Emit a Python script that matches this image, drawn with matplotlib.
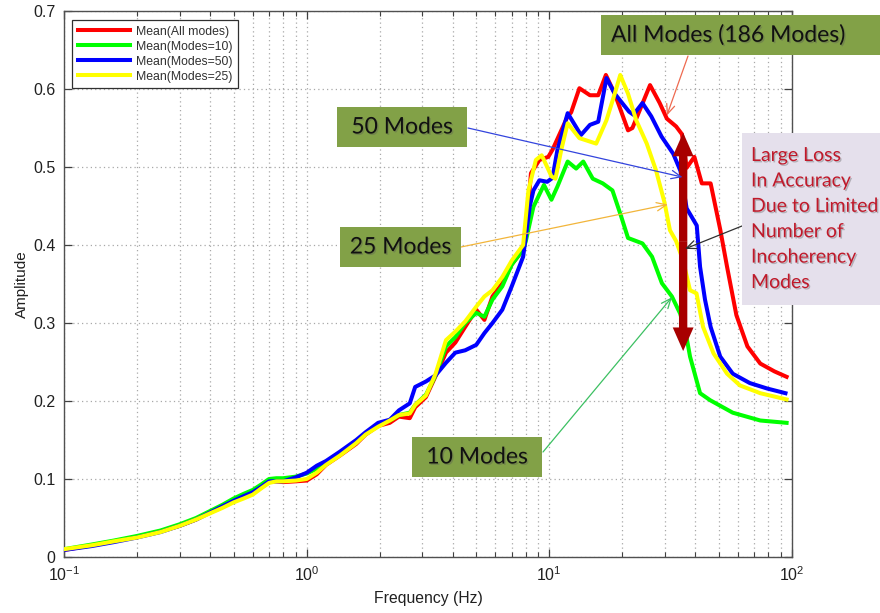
import matplotlib
matplotlib.use("Agg")
import matplotlib.pyplot as plt
import matplotlib.patheffects as pe
from matplotlib.patches import Rectangle, FancyArrowPatch
from matplotlib.ticker import FixedLocator, FuncFormatter, LogLocator, NullFormatter

# ---------------- data ----------------
freq_all = [0.1, 0.13, 0.16, 0.2, 0.25, 0.3, 0.35, 0.4, 0.45, 0.5, 0.55, 0.6, 0.65, 0.7,
            0.75, 0.8, 0.9, 1.0, 1.1, 1.2, 1.37, 1.6, 1.75, 1.97, 2.2, 2.4, 2.66, 2.8, 3.1,
            3.4, 3.75, 4.1, 4.5, 5.0, 5.4, 5.83, 6.4, 7.0, 7.8, 8.0, 8.4, 9.1, 9.9, 10.3,
            11.9, 12.3, 13.3, 14.7, 15.9, 17.1, 18.6, 21.1, 22.0, 26.0, 28.5, 30.5, 33.3,
            35.2, 36.8, 39.6, 42.5, 46.2, 50.6, 54.0, 59.0, 65.5, 74.0, 84.6, 95.0]
amp_all = [0.009, 0.015, 0.020, 0.026, 0.033, 0.040, 0.048, 0.057, 0.064, 0.071, 0.077,
           0.082, 0.089, 0.096, 0.097, 0.096, 0.097, 0.098, 0.106, 0.118, 0.130, 0.145,
           0.157, 0.168, 0.172, 0.180, 0.178, 0.192, 0.205, 0.232, 0.262, 0.275, 0.295,
           0.317, 0.304, 0.334, 0.351, 0.375, 0.394, 0.410, 0.492, 0.509, 0.513, 0.522,
           0.565, 0.570, 0.601, 0.592, 0.592, 0.618, 0.594, 0.547, 0.550, 0.605, 0.582,
           0.562, 0.552, 0.542, 0.499, 0.513, 0.479, 0.479, 0.420, 0.372, 0.310, 0.270,
           0.248, 0.238, 0.231]

freq_m10 = [0.1, 0.13, 0.16, 0.2, 0.25, 0.3, 0.35, 0.4, 0.45, 0.5, 0.55, 0.6, 0.65, 0.7,
            0.75, 0.8, 0.9, 1.0, 1.1, 1.2, 1.37, 1.6, 1.75, 1.97, 2.2, 2.4, 2.66, 2.8, 3.1,
            3.4, 3.75, 4.1, 4.5, 5.0, 5.4, 5.83, 6.4, 7.0, 7.8, 8.0, 8.6, 9.5, 10.2, 10.8,
            11.9, 12.9, 13.8, 15.1, 16.6, 18.2, 19.8, 21.1, 24.2, 26.5, 29.1, 32.0, 34.6,
            36.5, 38.0, 41.8, 46.0, 57.0, 74.0, 95.0]
amp_m10 = [0.010, 0.016, 0.021, 0.027, 0.034, 0.042, 0.050, 0.059, 0.067, 0.075, 0.081,
           0.086, 0.093, 0.100, 0.101, 0.101, 0.103, 0.107, 0.113, 0.120, 0.132, 0.147,
           0.158, 0.170, 0.175, 0.182, 0.185, 0.195, 0.208, 0.233, 0.270, 0.282, 0.300,
           0.313, 0.308, 0.330, 0.347, 0.375, 0.394, 0.405, 0.449, 0.477, 0.458, 0.475,
           0.507, 0.498, 0.507, 0.485, 0.479, 0.470, 0.436, 0.409, 0.402, 0.385, 0.351,
           0.334, 0.312, 0.287, 0.257, 0.210, 0.201, 0.185, 0.175, 0.172]

freq_m50 = [0.1, 0.13, 0.16, 0.2, 0.25, 0.3, 0.35, 0.4, 0.45, 0.5, 0.55, 0.6, 0.65, 0.7,
            0.75, 0.8, 0.9, 1.0, 1.1, 1.2, 1.37, 1.6, 1.75, 1.97, 2.2, 2.4, 2.66, 2.8, 3.1,
            3.4, 3.75, 4.1, 4.5, 5.0, 5.4, 5.83, 6.4, 7.0, 7.8, 8.3, 8.6, 9.1, 9.8, 10.3,
            10.8, 11.9, 13.5, 14.7, 15.9, 17.2, 18.6, 21.3, 22.2, 24.2, 26.3, 29.0, 32.4,
            34.7, 36.8, 40.5, 41.8, 43.8, 46.2, 50.6, 57.0, 67.0, 79.0, 94.0]
amp_m50 = [0.009, 0.014, 0.019, 0.025, 0.032, 0.040, 0.048, 0.057, 0.065, 0.072, 0.078,
           0.083, 0.090, 0.097, 0.097, 0.097, 0.102, 0.108, 0.117, 0.123, 0.135, 0.150,
           0.160, 0.172, 0.176, 0.188, 0.197, 0.218, 0.225, 0.233, 0.249, 0.262, 0.265,
           0.272, 0.287, 0.300, 0.317, 0.347, 0.385, 0.449, 0.470, 0.483, 0.481, 0.486,
           0.522, 0.569, 0.541, 0.554, 0.558, 0.614, 0.594, 0.571, 0.567, 0.582, 0.565,
           0.539, 0.517, 0.495, 0.447, 0.425, 0.372, 0.330, 0.295, 0.257, 0.235, 0.223,
           0.216, 0.210]

freq_m25 = [0.1, 0.13, 0.16, 0.2, 0.25, 0.3, 0.35, 0.4, 0.45, 0.5, 0.55, 0.6, 0.65, 0.7,
            0.75, 0.8, 0.9, 1.0, 1.1, 1.2, 1.37, 1.6, 1.75, 1.97, 2.2, 2.4, 2.66, 2.8, 3.1,
            3.4, 3.75, 4.1, 4.5, 5.0, 5.4, 5.83, 6.4, 7.0, 7.8, 8.2, 8.8, 9.3, 9.8, 10.2,
            10.6, 11.2, 11.9, 13.3, 15.6, 17.2, 18.6, 19.6, 21.1, 22.8, 25.2, 27.5, 29.8,
            31.4, 33.3, 35.5, 38.0, 40.4, 43.0, 47.5, 54.0, 61.0, 74.0, 95.0]
amp_m25 = [0.010, 0.015, 0.020, 0.025, 0.032, 0.040, 0.048, 0.056, 0.063, 0.070, 0.075,
           0.080, 0.088, 0.095, 0.097, 0.097, 0.098, 0.100, 0.108, 0.118, 0.130, 0.146,
           0.157, 0.167, 0.175, 0.182, 0.184, 0.195, 0.207, 0.235, 0.278, 0.289, 0.302,
           0.321, 0.334, 0.342, 0.359, 0.380, 0.400, 0.470, 0.509, 0.515, 0.500, 0.488,
           0.485, 0.522, 0.556, 0.537, 0.530, 0.560, 0.594, 0.618, 0.594, 0.560, 0.530,
           0.496, 0.455, 0.419, 0.405, 0.381, 0.342, 0.338, 0.295, 0.261, 0.235, 0.220,
           0.210, 0.202]

series_labels = ["Mean(All modes)", "Mean(Modes=10)", "Mean(Modes=50)", "Mean(Modes=25)"]
series_colors = ["#ff0000", "#00ff00", "#0000ff", "#ffff00"]

y_ticks = [0, 0.1, 0.2, 0.3, 0.4, 0.5, 0.6, 0.7]

# ---------------- figure ----------------
W, H = 880, 613
fig = plt.figure(figsize=(W / 100, H / 100), dpi=100)
fig.patch.set_facecolor("white")

ax_l, ax_t, ax_r, ax_b = 64, 11, 792, 557
ax = fig.add_axes([ax_l / W, 1 - ax_b / H, (ax_r - ax_l) / W, (ax_b - ax_t) / H])

curves = [(freq_all, amp_all), (freq_m10, amp_m10), (freq_m50, amp_m50), (freq_m25, amp_m25)]
for (fx, fy), lab, col in zip(curves, series_labels, series_colors):
    ax.plot(fx, fy, color=col, lw=2.9, label=lab, solid_joinstyle="round", zorder=3)

ax.set_xscale("log")
ax.set_xlim(0.1, 100)
ax.set_ylim(0, 0.7)
ax.yaxis.set_major_locator(FixedLocator(y_ticks))
ax.yaxis.set_major_formatter(FuncFormatter(lambda v, _: f"{v:g}"))
ax.xaxis.set_major_locator(LogLocator(base=10, numticks=10))
ax.xaxis.set_minor_locator(LogLocator(base=10, subs=range(2, 10), numticks=20))
ax.xaxis.set_minor_formatter(NullFormatter())

grid_kw = dict(linestyle=(0, (1, 2.5)), color="#a8a8a8", lw=0.9)
ax.grid(True, which="major", axis="both", **grid_kw)
ax.grid(True, which="minor", axis="x", **grid_kw)
ax.set_axisbelow(True)

ax.tick_params(which="both", direction="in", top=True, right=True, color="#404040")
ax.tick_params(which="major", length=6, width=0.9, labelsize=11.5, pad=6, labelcolor="#202020")
ax.tick_params(which="minor", length=3.5, width=0.8)
for lab in ax.get_xticklabels() + ax.get_yticklabels():
    lab.set_fontfamily("Liberation Sans")
for sp in ax.spines.values():
    sp.set_color("#505050")
    sp.set_linewidth(1.0)

ax.set_xlabel("Frequency (Hz)", fontsize=11.3, family="Liberation Sans", color="#202020", labelpad=5)
ax.set_ylabel("Amplitude", fontsize=11, family="Liberation Sans", color="#202020", labelpad=3)

leg = ax.legend(loc="upper left", bbox_to_anchor=((72 - ax_l) / (ax_r - ax_l), 1 - (20 - ax_t) / (ax_b - ax_t)),
                borderaxespad=0, handlelength=4.3, handletextpad=0.5,
                labelspacing=0.25, borderpad=0.45, fancybox=False, framealpha=1,
                edgecolor="#303030", prop={"family": "Liberation Sans", "size": 8.8})
leg.get_frame().set_linewidth(0.9)
for t in leg.get_texts():
    t.set_color("#303030")


# ---------------- callouts (pixel positions measured from the top-left) ----------------
def fx(px):
    return px / W


def fy(py):
    return 1 - py / H


shadow = [pe.withSimplePatchShadow(offset=(1, -1), shadow_rgbFace="#555555", alpha=0.35)]
green_fill = "#82a147"


def callout(x0, y0, x1, y1, text, face, color, size, ha="center", tx=None, linespacing=1.2):
    fig.add_artist(Rectangle((fx(x0), fy(y1)), fx(x1) - fx(x0), fy(y0) - fy(y1),
                             transform=fig.transFigure, facecolor=face, edgecolor="none", zorder=5))
    xpos = fx((x0 + x1) / 2) if tx is None else fx(tx)
    fig.text(xpos, fy((y0 + y1) / 2), text, ha=ha, va="center", fontsize=size, family="Lato",
             color=color, zorder=6, linespacing=linespacing, path_effects=shadow)


callout(601, 15, 880, 55, "All Modes (186 Modes)", green_fill, "#111111", 16.5, ha="left", tx=611)
callout(337, 107, 467, 147, "50 Modes", green_fill, "#111111", 16.5)
callout(340, 227, 461, 267, "25 Modes", green_fill, "#111111", 16.5)
callout(412, 437, 542, 477, "10 Modes", green_fill, "#111111", 16.5)
callout(742, 133, 880, 305,
        "Large Loss\nIn Accuracy\nDue to Limited\nNumber of\nIncoherency\nModes",
        "#e5e0ec", "#c0192a", 14.0, ha="left", tx=751, linespacing=1.6)


def pointer(tail_px, head_data, color):
    ann = ax.annotate("", xy=head_data, xycoords="data",
                      xytext=(tail_px[0], H - tail_px[1]), textcoords="figure pixels",
                      arrowprops=dict(arrowstyle="->,head_length=0.7,head_width=0.3",
                                      color=color, lw=0.9, shrinkA=0, shrinkB=0),
                      annotation_clip=False, zorder=7)
    ann.arrow_patch.set_zorder(7)


pointer((688, 56), (30.5, 0.566), "#ee6a50")
pointer((468, 128), (35.4, 0.487), "#3344dd")
pointer((461, 247), (30.8, 0.452), "#f2b53a")
pointer((543, 452), (32.0, 0.333), "#3cc062")
pointer((742, 226), (36.2, 0.395), "#303030")

# double-headed arrow marking the accuracy loss
loss_f = 35.6
loss_top, loss_bot = 0.544, 0.264
loss_mid = (loss_top + loss_bot) / 2
for end in (loss_top, loss_bot):
    ax.add_patch(FancyArrowPatch((loss_f, loss_mid), (loss_f, end),
                                 arrowstyle="simple,head_length=1.7,head_width=1.5,tail_width=0.6",
                                 mutation_scale=10, color="#a80000", lw=0,
                                 shrinkA=0, shrinkB=0, zorder=6))

fig.savefig("out.png", dpi=100, facecolor="white")
